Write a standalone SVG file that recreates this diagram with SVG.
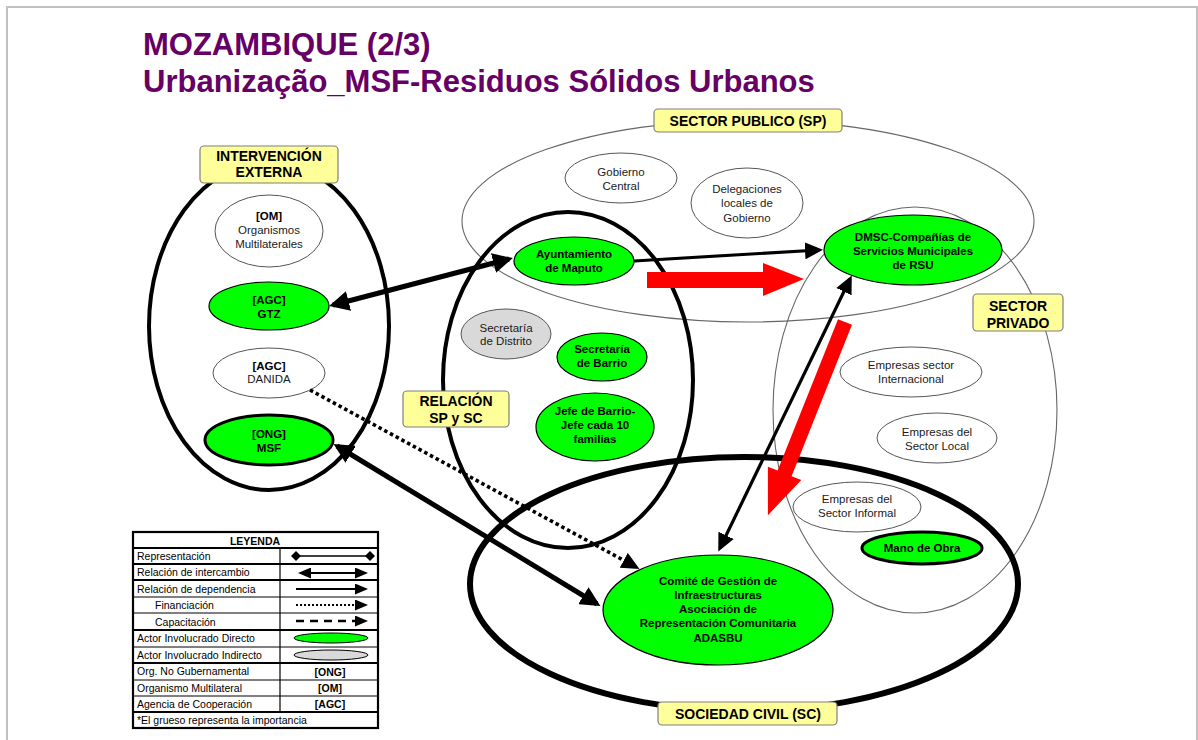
<svg xmlns="http://www.w3.org/2000/svg" width="1198" height="740" viewBox="0 0 1198 740">
<style>
text{font-family:"Liberation Sans",Arial,Helvetica,sans-serif}
.c{text-anchor:middle}
.n{font-size:11.5px;fill:#1a1a1a}
.b{font-size:11.5px;font-weight:bold;fill:#000}
.lbl{font-size:14px;font-weight:bold;fill:#000;text-anchor:middle}
.green{fill:#00ff00;stroke:#000;stroke-width:1.2}
.white{fill:#fff;stroke:#555;stroke-width:1}
.grey{fill:#d9d9d9;stroke:#555;stroke-width:1}
.box{fill:#ffff99;stroke:#7f7f7f;stroke-width:1.2}
.region{fill:none;stroke:#666;stroke-width:1.1}
.bold{fill:none;stroke:#000;stroke-width:4}
.lg{font-size:10.5px;fill:#000}
.title{font-size:31px;font-weight:bold;fill:#660066}
</style>
<defs>
<marker id="hT" markerUnits="userSpaceOnUse" markerWidth="20" markerHeight="20" refX="16" refY="10" orient="auto-start-reverse"><path d="M0,0 L20,10 L0,20 z" fill="#000"/></marker>
<marker id="hM" markerUnits="userSpaceOnUse" markerWidth="18" markerHeight="17" refX="14" refY="8.5" orient="auto-start-reverse"><path d="M0,0 L18,8.5 L0,17 z" fill="#000"/></marker>
<marker id="hS" markerUnits="userSpaceOnUse" markerWidth="13" markerHeight="11" refX="11" refY="5.5" orient="auto-start-reverse"><path d="M0,0 L13,5.5 L0,11 z" fill="#000"/></marker>
<marker id="dS" markerUnits="userSpaceOnUse" markerWidth="10" markerHeight="10" refX="5" refY="5" orient="auto"><path d="M0,5 L5,0 L10,5 L5,10 z" fill="#000"/></marker>
</defs>
<rect x="0" y="0" width="1198" height="740" fill="#fff"/>
<rect x="7" y="7" width="1190" height="760" fill="none" stroke="#c0c0c0" stroke-width="2"/>

<g id="title">
<text x="143" y="55" class="title">MOZAMBIQUE (2/3)</text>
<text x="143" y="92" class="title">Urbanização_MSF-Residuos Sólidos Urbanos</text>
</g>

<g id="regions">
<ellipse id="sector-publico-area" cx="748" cy="221" rx="286" ry="101" class="region"/>
<ellipse id="sector-privado-area" cx="915" cy="410" rx="142" ry="203" class="region"/>
<ellipse id="sociedad-civil-area" cx="744" cy="584" rx="274" ry="127" fill="none" stroke="#000" stroke-width="6"/>
<ellipse id="intervencion-area" cx="269" cy="326" rx="120" ry="164" class="bold"/>
<ellipse id="relacion-area" cx="568" cy="380" rx="125" ry="168" class="bold"/>
</g>

<g id="nodes">
<g id="om"><ellipse cx="269" cy="231" rx="54" ry="36" class="white"/>
<text x="269" y="220" class="c b" font-size="11px">[OM]</text><text x="269" y="234" class="c n">Organismos</text><text x="269" y="248" class="c n">Multilaterales</text></g>
<g id="gtz"><ellipse cx="269" cy="306" rx="60" ry="24" class="green"/>
<text x="269" y="304" class="c b">[AGC]</text><text x="269" y="318" class="c b">GTZ</text></g>
<g id="danida"><ellipse cx="269" cy="373" rx="56" ry="25" class="white"/>
<text x="269" y="370" class="c b">[AGC]</text><text x="269" y="383" class="c n">DANIDA</text></g>
<g id="msf"><ellipse cx="269" cy="440" rx="64" ry="25" fill="#00ff00" stroke="#000" stroke-width="3"/>
<text x="269" y="438" class="c b">[ONG]</text><text x="269" y="452" class="c b">MSF</text></g>

<g id="gobierno-central"><ellipse cx="621" cy="178" rx="56" ry="25" class="white"/>
<text x="621" y="176" class="c n">Gobierno</text><text x="621" y="190" class="c n">Central</text></g>
<g id="delegaciones"><ellipse cx="747" cy="203" rx="56" ry="35" class="white"/>
<text x="747" y="193" class="c n">Delegaciones</text><text x="747" y="207" class="c n">locales de</text><text x="747" y="222" class="c n">Gobierno</text></g>
<g id="ayuntamiento"><ellipse cx="574" cy="261" rx="60" ry="24" class="green"/>
<text x="574" y="258" class="c b">Ayuntamiento</text><text x="574" y="272" class="c b">de Maputo</text></g>
<g id="dmsc"><ellipse cx="913" cy="250" rx="89" ry="35" class="green"/>
<text x="913" y="241" class="c b">DMSC-Compañías de</text><text x="913" y="255" class="c b">Servicios Municipales</text><text x="913" y="269" class="c b">de RSU</text></g>

<g id="secretaria-distrito"><ellipse cx="506" cy="334" rx="45" ry="25" class="grey"/>
<text x="506" y="332" class="c n">Secretaría</text><text x="506" y="345" class="c n">de Distrito</text></g>
<g id="secretaria-barrio"><ellipse cx="602" cy="357" rx="45" ry="24" class="green"/>
<text x="602" y="353" class="c b">Secretaría</text><text x="602" y="367" class="c b">de Barrio</text></g>
<g id="jefe-barrio"><ellipse cx="595" cy="427" rx="59" ry="34" class="green"/>
<text x="595" y="415" class="c b">Jefe de Barrio-</text><text x="595" y="429" class="c b">Jefe cada 10</text><text x="595" y="443" class="c b">familias</text></g>

<g id="empresas-internacional"><ellipse cx="911" cy="372" rx="71" ry="25" class="white"/>
<text x="911" y="369" class="c n">Empresas sector</text><text x="911" y="383" class="c n">Internacional</text></g>
<g id="empresas-local"><ellipse cx="937" cy="438" rx="60" ry="25" class="white"/>
<text x="937" y="436" class="c n">Empresas del</text><text x="937" y="450" class="c n">Sector Local</text></g>
<g id="empresas-informal"><ellipse cx="857" cy="507" rx="64" ry="25" class="white"/>
<text x="857" y="503" class="c n">Empresas del</text><text x="857" y="517" class="c n">Sector Informal</text></g>
<g id="mano-obra"><ellipse cx="922" cy="548" rx="60" ry="16" fill="#00ff00" stroke="#000" stroke-width="3"/>
<text x="922" y="552" class="c b">Mano de Obra</text></g>

<g id="comite"><ellipse cx="718" cy="610" rx="115" ry="55" class="green"/>
<text x="718" y="585" class="c b">Comité de Gestión de</text><text x="718" y="599" class="c b">Infraestructuras</text><text x="718" y="613" class="c b">Asociación de</text><text x="718" y="627" class="c b">Representación Comunitaria</text><text x="718" y="642" class="c b">ADASBU</text></g>
</g>

<g id="connectors">
<line x1="333" y1="305" x2="509" y2="259" stroke="#000" stroke-width="5" marker-start="url(#hT)" marker-end="url(#hT)"/>
<line x1="337" y1="446" x2="597" y2="604" stroke="#000" stroke-width="5" marker-start="url(#hT)" marker-end="url(#hT)"/>
<line x1="310" y1="390" x2="636" y2="567" stroke="#000" stroke-width="3.6" stroke-dasharray="3.5 3" marker-end="url(#hM)"/>
<line x1="634" y1="261" x2="819" y2="250" stroke="#000" stroke-width="3.2" marker-end="url(#hM)"/>
<line x1="850" y1="279" x2="720" y2="548" stroke="#000" stroke-width="3.2" marker-start="url(#hM)" marker-end="url(#hM)"/>
<polygon id="red-arrow-1" points="647,272 763,272 763,263 804,279 763,296 763,288 647,288" fill="#ff0000"/>
<polygon id="red-arrow-2" transform="translate(845,322) rotate(111.75)" points="0,-7.5 163,-7.5 163,-18 208,0 163,18 163,7.5 0,7.5" fill="#ff0000"/>
</g>

<g id="labels">
<g id="lbl-intervencion"><rect x="200" y="146" width="138" height="37" rx="4" class="box"/>
<text x="269" y="161" class="lbl" font-size="13.5px">INTERVENCIÓN</text><text x="269" y="177" class="lbl" font-size="13.5px">EXTERNA</text></g>
<g id="lbl-sp"><rect x="654" y="109" width="188" height="23" rx="4" class="box"/>
<text x="748" y="126" class="lbl">SECTOR PUBLICO (SP)</text></g>
<g id="lbl-privado"><rect x="973" y="294" width="90" height="37" rx="4" class="box"/>
<text x="1018" y="311" class="lbl" font-size="14.5px">SECTOR</text><text x="1018" y="328" class="lbl" font-size="14.5px">PRIVADO</text></g>
<g id="lbl-relacion"><rect x="403" y="391" width="106" height="36" rx="4" class="box"/>
<text x="456" y="406" class="lbl" font-size="14.5px">RELACIÓN</text><text x="456" y="423" class="lbl" font-size="14.5px">SP y SC</text></g>
<g id="lbl-sc"><rect x="658" y="702" width="179" height="23" rx="4" class="box"/>
<text x="748" y="719" class="lbl">SOCIEDAD CIVIL (SC)</text></g>
</g>

<g id="legend">
<rect x="133" y="532" width="245" height="196" fill="#fff" stroke="#000" stroke-width="2.2"/>
<g stroke="#000">
<line x1="133" y1="548" x2="378" y2="548" stroke-width="2.2"/>
<line x1="133" y1="564" x2="378" y2="564" stroke-width="2"/>
<line x1="133" y1="580" x2="378" y2="580" stroke-width="2"/>
<line x1="133" y1="597" x2="378" y2="597" stroke-width="1"/>
<line x1="133" y1="613" x2="378" y2="613" stroke-width="1"/>
<line x1="133" y1="630" x2="378" y2="630" stroke-width="2"/>
<line x1="133" y1="647" x2="378" y2="647" stroke-width="1"/>
<line x1="133" y1="663" x2="378" y2="663" stroke-width="2"/>
<line x1="133" y1="680" x2="378" y2="680" stroke-width="1"/>
<line x1="133" y1="696" x2="378" y2="696" stroke-width="1"/>
<line x1="133" y1="712" x2="378" y2="712" stroke-width="2.2"/>
<line x1="280" y1="548" x2="280" y2="712" stroke-width="1.2"/>
</g>
<text x="255" y="545" class="c lg" font-weight="bold">LEYENDA</text>
<text x="137" y="560" class="lg">Representación</text>
<text x="137" y="576" class="lg">Relación de intercambio</text>
<text x="137" y="593" class="lg">Relación de dependencia</text>
<text x="155" y="609" class="lg">Financiación</text>
<text x="155" y="626" class="lg">Capacitación</text>
<text x="137" y="642" class="lg">Actor Involucrado Directo</text>
<text x="137" y="659" class="lg">Actor Involucrado Indirecto</text>
<text x="137" y="675" class="lg">Org. No Gubernamental</text>
<text x="137" y="692" class="lg">Organismo Multilateral</text>
<text x="137" y="708" class="lg">Agencia de Cooperación</text>
<text x="137" y="724" class="lg">*El grueso representa la importancia</text>
<line x1="296" y1="556" x2="370" y2="556" stroke="#000" stroke-width="1.5" marker-start="url(#dS)" marker-end="url(#dS)"/>
<line x1="300" y1="573" x2="366" y2="573" stroke="#000" stroke-width="2" marker-start="url(#hS)" marker-end="url(#hS)"/>
<line x1="296" y1="589" x2="366" y2="589" stroke="#000" stroke-width="2" marker-end="url(#hS)"/>
<line x1="296" y1="605" x2="366" y2="605" stroke="#000" stroke-width="2" stroke-dasharray="2 2" marker-end="url(#hS)"/>
<line x1="296" y1="621" x2="366" y2="621" stroke="#000" stroke-width="2.5" stroke-dasharray="8 6" marker-end="url(#hS)"/>
<ellipse cx="331" cy="638" rx="37" ry="5" fill="#00ff00" stroke="#000" stroke-width="1"/>
<ellipse cx="331" cy="655" rx="37" ry="5" fill="#d9d9d9" stroke="#000" stroke-width="1"/>
<text x="330" y="676" class="c lg" font-weight="bold">[ONG]</text>
<text x="330" y="692" class="c lg" font-weight="bold">[OM]</text>
<text x="330" y="708" class="c lg" font-weight="bold">[AGC]</text>
</g>
</svg>
